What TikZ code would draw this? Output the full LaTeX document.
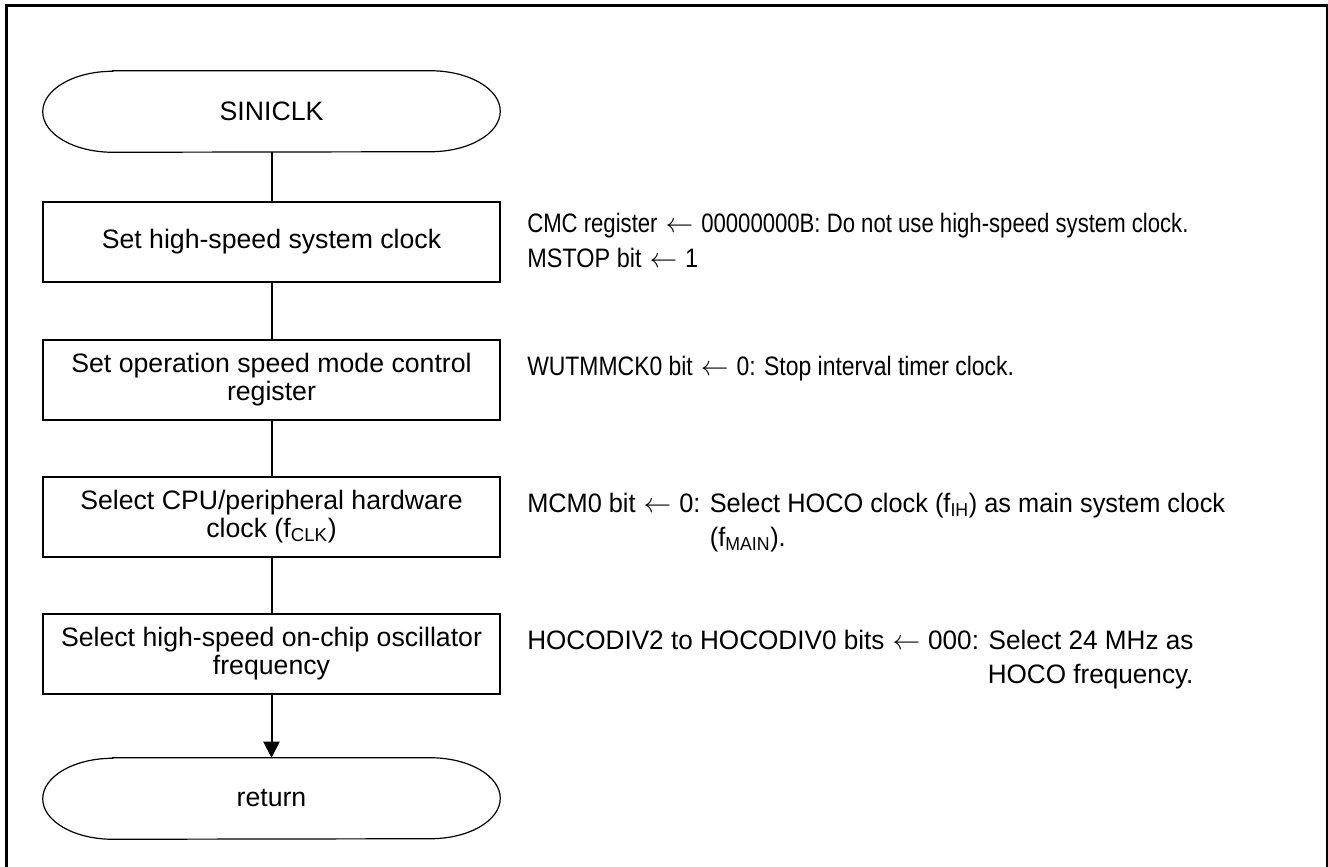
\documentclass[tikz,border=0pt]{standalone}
\usepackage{fontspec}
\setmainfont{Liberation Sans}
\newfontfamily\annA[FakeStretch=0.83]{Liberation Sans}
\newfontfamily\annB[FakeStretch=0.88]{Liberation Sans}
\newfontfamily\annC[FakeStretch=0.86]{Liberation Sans}
\newfontfamily\annD[FakeStretch=0.95]{Liberation Sans}
\newfontfamily\annE[FakeStretch=0.98]{Liberation Sans}
\usetikzlibrary{arrows.meta}
\newcommand\larr{\hspace{6pt}$\leftarrow$\hspace{6pt}}
\newcommand\termshape[1]{\draw[termline] ([xshift=52.5pt]#1.north west) -- ([xshift=-52.5pt]#1.north east) arc[start angle=90,end angle=-90,x radius=52.5pt,y radius=30.375pt] -- ([xshift=52.5pt]#1.south west) arc[start angle=270,end angle=90,x radius=52.5pt,y radius=30.375pt] -- cycle;}
\begin{document}
\begin{tikzpicture}[x=0.75pt,y=-0.75pt,
  procbox/.style={draw,line width=1.5pt,minimum width=342.75pt,minimum height=60pt,inner sep=0pt,align=center,font=\fontsize{20}{21}\selectfont},
  termnode/.style={minimum width=342.75pt,minimum height=60.75pt,inner sep=0pt,font=\fontsize{20}{21}\selectfont},
  note/.style={anchor=base west,inner sep=0pt,font=\fontsize{20}{26}\selectfont},
  conn/.style={line width=1.5pt},
  termline/.style={line width=0.9pt}
]
\useasboundingbox (0,0) rectangle (1328,867);
\draw[line width=2.25pt] (6,880) -- (6,6) -- (1327,6) -- (1327,880);

\node[termnode] (start) at (271.5,111.5) {SINICLK};
\termshape{start}
\node[procbox] (b1) at (271.5,242) {Set high-speed system clock};
\node[procbox] (b2) at (271.5,379.5) {Set operation speed mode control\\register};
\node[procbox] (b3) at (271.5,516.5) {Select CPU/peripheral hardware\\clock (f\textsubscript{CLK})};
\node[procbox] (b4) at (271.5,653.5) {Select high-speed on-chip oscillator\\frequency};
\node[termnode] (ret) at (271.5,798.5) {return};
\termshape{ret}

\draw[conn] (start) -- (b1);
\draw[conn] (b1) -- (b2);
\draw[conn] (b2) -- (b3);
\draw[conn] (b3) -- (b4);
\draw[conn,-{Triangle[length=12pt,width=12pt]}] (b4) -- (ret);

\node[note,font=\annA\fontsize{20}{26}\selectfont] (n1) at (527,232) {CMC register\larr 00000000B: Do not use high-speed system clock.};
\node[note,font=\annB\fontsize{20}{26}\selectfont] (n1b) at (527,267) {MSTOP bit\larr 1};
\node[note,font=\annC\fontsize{20}{26}\selectfont] (n2) at (527,375) {WUTMMCK0 bit\larr 0: Stop interval timer clock.};
\node[note,font=\annD\fontsize{20}{26}\selectfont] (n3) at (527,512) {MCM0 bit\larr 0: Select HOCO clock (f\textsubscript{IH}) as main system clock};
\node[note,font=\annD\fontsize{20}{26}\selectfont] (n3b) at ([yshift=-25.5pt]n3.base west) {\phantom{MCM0 bit\larr 0: }(f\textsubscript{MAIN}).};
\node[note,font=\annE\fontsize{20}{26}\selectfont] (n4) at (527,649) {HOCODIV2 to HOCODIV0 bits\larr 000: Select 24 MHz as};
\node[note,font=\annE\fontsize{20}{26}\selectfont,anchor=base east] (n4b) at ([yshift=-25.5pt]n4.base east) {HOCO frequency.};
\end{tikzpicture}
\end{document}
